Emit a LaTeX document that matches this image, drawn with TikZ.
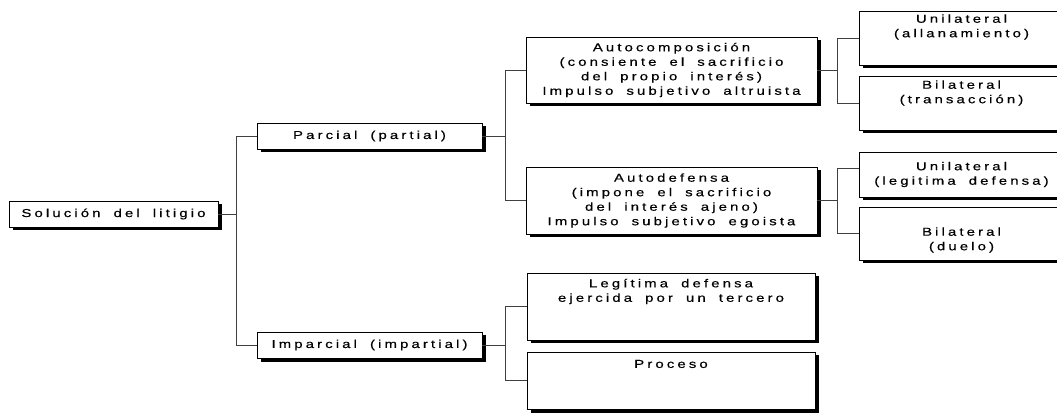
\documentclass[tikz,border=0pt]{standalone}
\usepackage{fontspec}
\setmainfont{Liberation Sans}[FakeStretch=1.3, LetterSpace=27, WordSpace=1.8, FakeBold=0.4]
\usetikzlibrary{shadows}
\begin{document}
\begin{tikzpicture}[x=1pt,y=-1pt,
  txt/.style={font=\fontsize{11.5}{14.5}\selectfont, align=center},
  box/.style={txt, draw=black, line width=0.8pt, fill=white, rectangle,
    inner sep=0pt, outer sep=0pt, anchor=north west,
    drop shadow={shadow xshift=3.5pt, shadow yshift=-3.5pt, fill=black, opacity=1}},
  lbl/.style={txt, inner sep=0pt, anchor=center},
  conn/.style={draw=black!75, line width=0.8pt}
]
\clip (0,0) rectangle (1057,419);
\fill[white] (0,0) rectangle (1057,419);

% boxes
\node[box, minimum width=209pt, minimum height=26pt] (sol) at (9,201) {Solución del litigio};
\node[box, minimum width=225pt, minimum height=26pt] (par) at (257,123) {Parcial (partial)};
\node[box, minimum width=225pt, minimum height=26pt] (imp) at (257,332) {Imparcial (impartial)};
\node[box, minimum width=291pt, minimum height=66pt] (auc) at (526,37)
  {Autocomposición\\(consiente el sacrificio\\del propio interés)\\Impulso subjetivo altruista};
\node[box, minimum width=291pt, minimum height=67pt] (aud) at (526,167)
  {Autodefensa\\(impone el sacrificio\\del interés ajeno)\\Impulso subjetivo egoista};
\node[box, minimum width=288pt, minimum height=67pt] (leg) at (527,273) {};
\node[box, minimum width=288pt, minimum height=57pt] (pro) at (527,352) {};
\node[box, minimum width=205pt, minimum height=54pt] (uA) at (859,11) {};
\node[box, minimum width=205pt, minimum height=54pt] (bT) at (859,76) {};
\node[box, minimum width=205pt, minimum height=45pt] (uL) at (859,152) {Unilateral\\(legitima defensa)};
\node[box, minimum width=205pt, minimum height=53pt] (bD) at (859,207) {};

% texts placed near the top of their boxes
\node[lbl] (uAt) at ([yshift=-16pt]uA.north) {Unilateral\\(allanamiento)};
\node[lbl] (bTt) at ([yshift=-17pt]bT.north) {Bilateral\\(transacción)};
\node[lbl] (bDt) at ([yshift=-33pt]bD.north) {Bilateral\\(duelo)};
\node[lbl] (legt) at ([yshift=-18.5pt]leg.north) {Legítima defensa\\ejercida por un tercero};
\node[lbl] (prot) at ([yshift=-12pt]pro.north) {Proceso};

% connectors
\draw[conn] (sol.east) -- ++(18,0) coordinate (j1) |- (par.west);
\draw[conn] (j1) |- (imp.west);
\draw[conn] (par.east) -- ++(23,0) coordinate (j2) |- (auc.west);
\draw[conn] (j2) |- (aud.west);
\draw[conn] (imp.east) -- ++(23,0) coordinate (j3) |- (leg.west);
\draw[conn] (j3) |- (pro.west);
\draw[conn] (auc.east) -- ++(20,0) coordinate (j4) |- (uA.west);
\draw[conn] (j4) |- (bT.west);
\draw[conn] (aud.east) -- ++(20,0) coordinate (j5) |- ([yshift=6pt]uL.west);
\draw[conn] (j5) |- (bD.west);
\end{tikzpicture}
\end{document}
